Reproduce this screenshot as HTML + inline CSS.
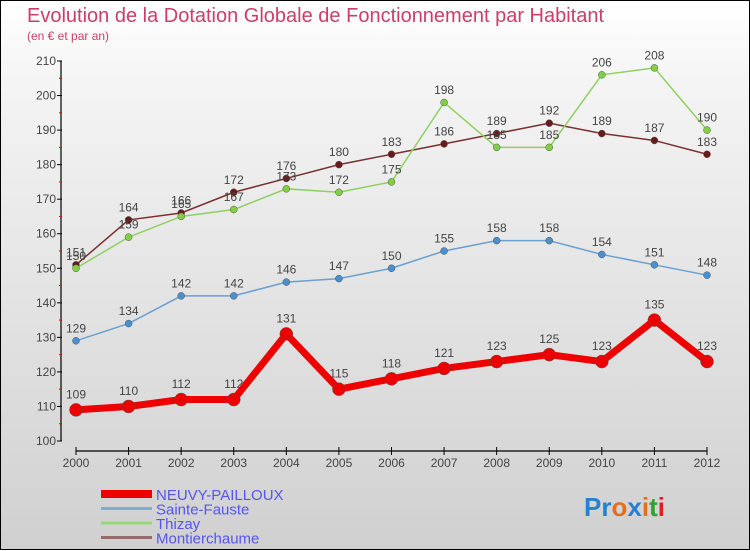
<!DOCTYPE html>
<html><head><meta charset="utf-8"><style>
html,body{margin:0;padding:0}
body{width:750px;height:550px;overflow:hidden;font-family:"Liberation Sans","DejaVu Sans",sans-serif}
#wrap{position:relative;width:748px;height:548px;border:1px solid #000;background:linear-gradient(#ffffff,#f4f4f4 15%,#d0d0d0)}
svg{position:absolute;left:0;top:0}
</style></head><body>
<div id="wrap">
<svg id="chart" width="750" height="550">
<text x="26" y="21" font-size="20" fill="#c8406a">Evolution de la Dotation Globale de Fonctionnement par Habitant</text>
<text x="26" y="39" font-size="12" fill="#c8406a">(en € et par an)</text>
</svg>
</div>
<script>
const years=[2000,2001,2002,2003,2004,2005,2006,2007,2008,2009,2010,2011,2012];
const neuvy=[109,110,112,112,131,115,118,121,123,125,123,135,123];
const sainteFauste=[129,134,142,142,146,147,150,155,158,158,154,151,148];
const thizay=[150,159,165,167,173,172,175,198,185,185,206,208,190];
const montierchaume=[151,164,166,172,176,180,183,186,189,192,189,187,183];
const yTicks=[100,110,120,130,140,150,160,170,180,190,200,210];
const seriesNames=["NEUVY-PAILLOUX","Sainte-Fauste","Thizay","Montierchaume"];

const svg=document.getElementById('chart');
const NS='http://www.w3.org/2000/svg';
function xs(i){return 75+i*(706-75)/(years.length-1);}
function ys(v){return 440-(v-100)*380/110;}
function mk(t,a){const e=document.createElementNS(NS,t);for(const k in a)e.setAttribute(k,a[k]);svg.appendChild(e);return e;}

let ya=mk('line',{x1:60,y1:ys(210),x2:60,y2:ys(100),stroke:'#000','stroke-width':1.2});


yTicks.forEach(v=>{
  const y=ys(v);
  mk('line',{x1:56,y1:y,x2:61,y2:y,stroke:'#000'});
  const t=mk('text',{x:55,y:y+4,'text-anchor':'end','font-size':12,fill:'#444'});
  t.textContent=v;
  
  
  if(v<210){const m=ys(v+5);mk('line',{x1:58,y1:m,x2:61,y2:m,stroke:'#e00'});}
});
let xa=mk('line',{x1:75,y1:450,x2:706,y2:450,stroke:'#000','stroke-width':1.2});


years.forEach((yr,i)=>{
  const x=xs(i);
  mk('line',{x1:x,y1:446,x2:x,y2:454,stroke:'#000'});
  const t=mk('text',{x:x,y:466,'text-anchor':'middle','font-size':12,fill:'#444'});
  t.textContent=yr;
  
  
});

function series(data,color,dot,w,r,name){
  const pts=data.map((v,i)=>xs(i)+','+ys(v)).join(' ');
  const pl=mk('polyline',{points:pts,fill:'none',stroke:color,'stroke-width':w});
  
  
  data.forEach((v,i)=>{
    const c=mk('circle',{cx:xs(i),cy:ys(v),r:r,fill:dot,stroke:'#555','stroke-width':0.5});
    
    
    const t=mk('text',{x:xs(i),y:ys(v)-(r+5),'text-anchor':'middle','font-size':12,fill:'#444'});
    t.textContent=v;
    
    
  });
}
series(montierchaume,'#7a3030','#6a1a1a',1.5,3.5,'montierchaume');
series(thizay,'#90d060','#80d040',1.5,3.5,'thizay');
series(sainteFauste,'#6aa0d0','#4a90d0',1.5,3.5,'sainte-fauste');
series(neuvy,'#ee0000','#ee0000',7,6.5,'neuvy-pailloux');

const lc=['#ee0000','#7eaed4','#98d878','#9a6a6a'];
const lw=[8,3,3,3];
seriesNames.forEach((n,i)=>{
  const y=493+i*14.5;
  const l=mk('line',{x1:100,y1:y,x2:151,y2:y,stroke:lc[i],'stroke-width':lw[i]});
  
  
  const t=mk('text',{x:155,y:y+6,'font-size':15,fill:'#5555ee'});
  t.textContent=n;
  
  
});
const logo=mk('text',{x:583,y:515,'font-size':26,'font-weight':'bold'});


[['P','#2a7fd0'],['r','#2a7fd0'],['o','#e07020'],['x','#2a7fd0'],['i','#e07020'],['t','#30a030'],['i','#e02020']].forEach(([c,col])=>{
  const s=document.createElementNS(NS,'tspan');s.setAttribute('fill',col);s.textContent=c;logo.appendChild(s);
});
</script>
</body></html>
